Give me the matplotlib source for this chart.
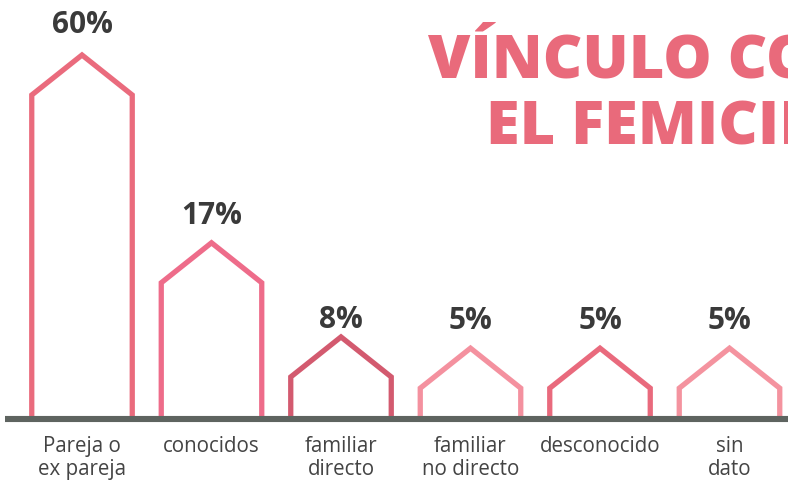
import matplotlib
matplotlib.use("Agg")
import matplotlib.pyplot as plt

# ---- data ----
categories = ["Pareja o\nex pareja", "conocidos", "familiar\ndirecto",
              "familiar\nno directo", "desconocido", "sin\ndato"]
values = [60, 17, 8, 5, 5, 5]                       # labelled percentages
bar_heights = [60, 24.9, 7.3, 5.2, 5.2, 5.2]        # drawn wall heights
colors = ["#EA6B7D", "#EE6C8A", "#D35A6F", "#F4919F", "#E96A7D", "#F4939F"]
title_lines = ["VÍNCULO CON", "EL FEMICIDIO"]

# ---- layout constants ----
W, H = 788, 480
px_per_x = 129.5           # pixels per category step
x0_px = 82.0               # pixel position of category 0
px_per_y = 5.35            # pixels per height unit
base_px = 64               # baseline (top of ground line) from bottom in px
roof_px = 40
house_w_px = 100.5
label_gap_px = [22, 19, 9, 19, 19, 19]

plt.rcParams['font.family'] = ['Open Sans', 'DejaVu Sans']
fig = plt.figure(figsize=(W / 100, H / 100), dpi=100)
ax = fig.add_axes([0, 0, 1, 1])
xmin = -x0_px / px_per_x
ax.set_xlim(xmin, xmin + W / px_per_x)
ymin = -base_px / px_per_y
ax.set_ylim(ymin, ymin + H / px_per_y)
ax.axis("off")

hw = house_w_px / px_per_x / 2
roof = roof_px / px_per_y
for i, (h, v, c) in enumerate(zip(bar_heights, values, colors)):
    xs = [i - hw, i - hw, i, i + hw, i + hw]
    ys = [-0.5, h, h + roof, h, -0.5]
    ax.plot(xs, ys, color=c, lw=3.8, solid_joinstyle="miter", zorder=2)
    ax.text(i, h + roof + label_gap_px[i] / px_per_y, f"{v}%", ha="center",
            va="baseline", fontsize=21.5, fontweight="bold", color="#3A3A3A")
    ax.text(i, -20 / px_per_y, categories[i], ha="center", va="top",
            fontsize=14.8, color="#444444", linespacing=1.15)

# ground line
ax.axhline(-3 / px_per_y, xmin=5 / W, xmax=1, color="#5E6460", lw=4.4, zorder=3,
           solid_capstyle="butt")

# title (clipped at right edge as in the reference)
fig.text(428 / W, 1 - 77 / H, title_lines[0], ha="left", va="baseline",
         fontsize=44, fontweight="heavy", color="#E96A7B")
fig.text(486 / W, 1 - 145 / H, title_lines[1], ha="left", va="baseline",
         fontsize=44, fontweight="heavy", color="#E96A7B")

fig.savefig("out.png", dpi=100)
